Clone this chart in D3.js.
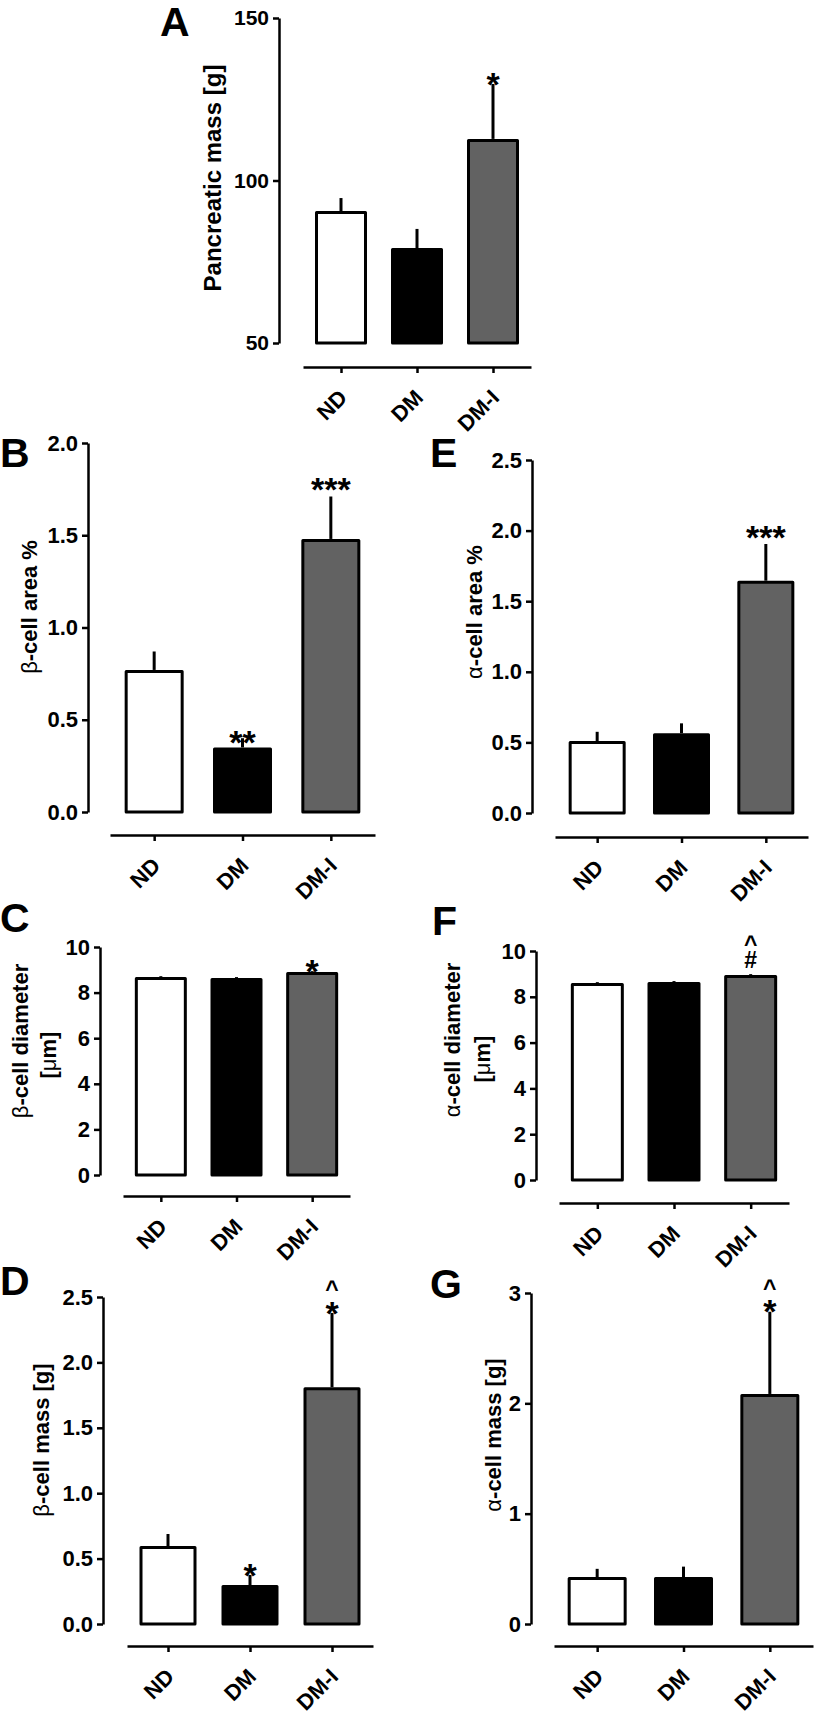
<!DOCTYPE html>
<html><head><meta charset="utf-8">
<script src="https://cdn.jsdelivr.net/npm/d3@7"></script>
<style>
body{margin:0;background:#fff}
svg{display:block}
text{font-family:"Liberation Sans",Arial,Helvetica,sans-serif;font-weight:bold;fill:#000}
</style></head><body>
<svg id="chart" width="815" height="1724"></svg>
<script>
// ---------- data ----------
const categories = ["ND", "DM", "DM-I"];
const barFills = ["#ffffff", "#000000", "#626262"];

// A: pancreatic mass [g]
const pancMean = [90.6, 79.2, 112.8];
const pancErr  = [4.0, 5.9, 16.9];
const pancTicks = [50, 100, 150];
const pancSig = [[], [], ["*"]];

// B: beta-cell area %
const betaAreaMean = [0.77, 0.35, 1.48];
const betaAreaErr  = [0.10, 0.05, 0.23];
const betaAreaTicks = [0, 0.5, 1.0, 1.5, 2.0];
const betaAreaSig = [[], ["**"], ["***"]];

// E: alpha-cell area %
const alphaAreaMean = [0.51, 0.565, 1.645];
const alphaAreaErr  = [0.065, 0.07, 0.26];
const alphaAreaTicks = [0, 0.5, 1.0, 1.5, 2.0, 2.5];
const alphaAreaSig = [[], [], ["***"]];

// C: beta-cell diameter [um]
const betaDiamMean = [8.68, 8.64, 8.90];
const betaDiamErr  = [0.04, 0.04, 0.04];
const betaDiamTicks = [0, 2, 4, 6, 8, 10];
const betaDiamSig = [[], [], ["*"]];

// F: alpha-cell diameter [um]
const alphaDiamMean = [8.60, 8.65, 8.95];
const alphaDiamErr  = [0.04, 0.04, 0.04];
const alphaDiamTicks = [0, 2, 4, 6, 8, 10];
const alphaDiamSig = [[], [], ["#", "^"]];

// D: beta-cell mass [g]
const betaMassMean = [0.596, 0.298, 1.81];
const betaMassErr  = [0.092, 0.077, 0.568];
const betaMassTicks = [0, 0.5, 1.0, 1.5, 2.0, 2.5];
const betaMassSig = [[], ["*"], ["*", "^"]];

// G: alpha-cell mass [g]
const alphaMassMean = [0.425, 0.425, 2.085];
const alphaMassErr  = [0.075, 0.095, 0.745];
const alphaMassTicks = [0, 1, 2, 3];
const alphaMassSig = [[], [], ["*", "^"]];

// ---------- panels (data + layout) ----------
const f0 = d3.format("d"), f1 = d3.format(".1f");
const panels = [
  {letter:"A", mean:pancMean, err:pancErr, ticks:pancTicks, fmt:f0, domain:[50,150], sig:pancSig,
   label:[{parts:[["Pancreatic mass [g]","bold"]], x:221, y:178}], labelSize:24, tickSize:21,
   L:{yAxisX:279, yTop:18, yBot:343, xRange:[303,531], barW:52, xAxisY:367, lx:160, ly:36}},
  {letter:"B", mean:betaAreaMean, err:betaAreaErr, ticks:betaAreaTicks, fmt:f1, domain:[0,2], sig:betaAreaSig,
   label:[{parts:[["β","normal"],["-cell area %","bold"]], x:37, y:607}], labelSize:22, tickSize:22,
   L:{yAxisX:88, yTop:443, yBot:812, xRange:[110,375], barW:59, xAxisY:835, lx:0, ly:467}},
  {letter:"E", mean:alphaAreaMean, err:alphaAreaErr, ticks:alphaAreaTicks, fmt:f1, domain:[0,2.5], sig:alphaAreaSig,
   label:[{parts:[["α","normal"],["-cell area %","bold"]], x:482, y:612}], labelSize:22, tickSize:22,
   L:{yAxisX:532, yTop:460, yBot:813, xRange:[555,808], barW:57, xAxisY:837, lx:430, ly:467}},
  {letter:"C", mean:betaDiamMean, err:betaDiamErr, ticks:betaDiamTicks, fmt:f0, domain:[0,10], sig:betaDiamSig,
   label:[{parts:[["β","normal"],["-cell diameter","bold"]], x:28, y:1041},
          {parts:[["[","bold"],["μ","normal"],["m]","bold"]], x:56, y:1055}], labelSize:22, tickSize:22,
   L:{yAxisX:100, yTop:947, yBot:1175, xRange:[123,350], barW:52, xAxisY:1196, lx:0, ly:932}},
  {letter:"F", mean:alphaDiamMean, err:alphaDiamErr, ticks:alphaDiamTicks, fmt:f0, domain:[0,10], sig:alphaDiamSig,
   label:[{parts:[["α","normal"],["-cell diameter","bold"]], x:460, y:1040},
          {parts:[["[","bold"],["μ","normal"],["m]","bold"]], x:490, y:1059}], labelSize:22, tickSize:22,
   L:{yAxisX:536, yTop:951, yBot:1180, xRange:[559,789], barW:53, xAxisY:1203, lx:432, ly:935}},
  {letter:"D", mean:betaMassMean, err:betaMassErr, ticks:betaMassTicks, fmt:f1, domain:[0,2.5], sig:betaMassSig,
   label:[{parts:[["β","normal"],["-cell mass [g]","bold"]], x:49, y:1440}], labelSize:22, tickSize:22,
   L:{yAxisX:103, yTop:1297, yBot:1624, xRange:[127,373], barW:57, xAxisY:1646, lx:0, ly:1295}},
  {letter:"G", mean:alphaMassMean, err:alphaMassErr, ticks:alphaMassTicks, fmt:f0, domain:[0,3], sig:alphaMassSig,
   label:[{parts:[["α","normal"],["-cell mass [g]","bold"]], x:501, y:1435}], labelSize:22, tickSize:22,
   L:{yAxisX:531, yTop:1293, yBot:1624, xRange:[554,813], barW:59, xAxisY:1646, lx:430, ly:1298}}
];

// annotation glyph metrics: font size, ink-centre height (em above baseline), gap above error bar
const sigStyle = {
  "*":   {fs:34, c:0.58, gap:8},
  "**":  {fs:34, c:0.58, gap:4},
  "***": {fs:34, c:0.58, gap:15},
  "#":   {fs:23, c:0.36, gap:14},
  "^":   {fs:23, c:0.53, gap:8}
};

const svg = d3.select("#chart");

panels.forEach(p => {
  const L = p.L;
  const g = svg.append("g").attr("class", "panel-" + p.letter);
  const y = d3.scaleLinear().domain(p.domain).range([L.yBot, L.yTop]);
  const x = d3.scalePoint().domain(categories).range(L.xRange).padding(0.5);

  // y axis
  const ya = g.append("g").attr("transform", `translate(${L.yAxisX},0)`)
    .call(d3.axisLeft(y).tickValues(p.ticks).tickFormat(p.fmt).tickSize(6).tickPadding(4).tickSizeOuter(0));
  ya.attr("font-size", p.tickSize);
  ya.selectAll(".domain, .tick line").attr("stroke", "#000").attr("stroke-width", 2.5);

  // x axis
  const xa = g.append("g").attr("transform", `translate(0,${L.xAxisY})`)
    .call(d3.axisBottom(x).tickSize(6).tickSizeOuter(0));
  xa.attr("font-size", 22);
  xa.selectAll(".domain, .tick line").attr("stroke", "#000").attr("stroke-width", 2.5);
  xa.selectAll(".tick text")
    .attr("x", 0).attr("y", 0).attr("dy", null)
    .attr("text-anchor", "end")
    .attr("transform", "translate(7,32) rotate(-45)");

  // error bars (upper only, no caps)
  g.selectAll("line.err").data(categories).join("line").attr("class", "err")
    .attr("x1", d => x(d)).attr("x2", d => x(d))
    .attr("y1", (d, i) => y(p.mean[i]))
    .attr("y2", (d, i) => y(p.mean[i] + p.err[i]))
    .attr("stroke", "#000").attr("stroke-width", 3);

  // bars
  g.selectAll("rect.bar").data(categories).join("rect").attr("class", "bar")
    .attr("x", d => x(d) - L.barW / 2 + 1.5)
    .attr("width", L.barW - 3)
    .attr("y", (d, i) => y(p.mean[i]) + 1.5)
    .attr("height", (d, i) => y(p.domain[0]) - y(p.mean[i]) - 1.5)
    .attr("fill", (d, i) => barFills[i])
    .attr("stroke", "#000").attr("stroke-width", 3).attr("stroke-linejoin", "round");

  // significance marks: one text element per stack, symbols as tspans
  categories.forEach((c, i) => {
    if (!p.sig[i].length) return;
    const t = g.append("text").attr("class", "sig").attr("text-anchor", "middle");
    let centre = y(p.mean[i] + p.err[i]);
    p.sig[i].forEach((s, k) => {
      const st = sigStyle[s];
      centre -= (k === 0 ? st.gap : 20);
      t.append("tspan").attr("x", x(c)).attr("y", centre + st.c * st.fs)
        .attr("font-size", st.fs).text(s);
    });
  });

  // panel letter
  g.append("text").attr("x", L.lx).attr("y", L.ly).attr("font-size", 41).text(p.letter);

  // y label
  p.label.forEach(line => {
    const t = g.append("text")
      .attr("transform", `translate(${line.x},${line.y}) rotate(-90)`)
      .attr("text-anchor", "middle").attr("font-size", p.labelSize);
    line.parts.forEach(pt => t.append("tspan").attr("font-weight", pt[1]).text(pt[0]));
  });
});
</script>
</body></html>
